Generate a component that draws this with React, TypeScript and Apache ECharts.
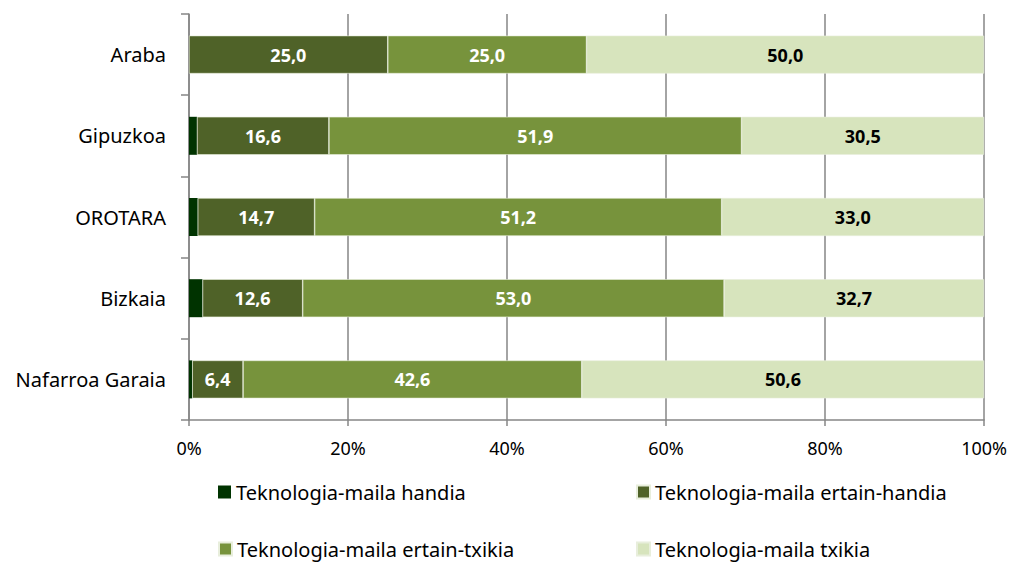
import React, { useEffect, useRef } from "react";
import * as echarts from "echarts";

const categories = ["Araba", "Gipuzkoa", "OROTARA", "Bizkaia", "Nafarroa Garaia"];
const seriesNames = [
  "Teknologia-maila handia",
  "Teknologia-maila ertain-handia",
  "Teknologia-maila ertain-txikia",
  "Teknologia-maila txikia",
];
const handia = [0, 1.0, 1.1, 1.7, 0.4];
const ertainHandia = [25.0, 16.6, 14.7, 12.6, 6.4];
const ertainTxikia = [25.0, 51.9, 51.2, 53.0, 42.6];
const txikia = [50.0, 30.5, 33.0, 32.7, 50.6];
const xTicks = [0, 20, 40, 60, 80, 100];

const colors = ["#003300", "#4f6228", "#77933c", "#d7e4bd"];
const labelColors = ["#ffffff", "#ffffff", "#ffffff", "#000000"];
const FONT = "Noto Sans";

export default function App() {
  const ref = useRef<HTMLDivElement>(null);
  useEffect(() => {
    if (!ref.current) return;
    const chart = echarts.init(ref.current, null, { renderer: "svg" });
    const values = [handia, ertainHandia, ertainTxikia, txikia];
    const legendPos = [
      { left: 218, top: 482 },
      { left: 636, top: 482 },
      { left: 218, top: 539 },
      { left: 636, top: 539 },
    ];
    chart.setOption({
      animation: false,
      textStyle: { fontFamily: FONT },
      grid: { left: 189, right: 25, top: 14, bottom: 142, containLabel: false },
      legend: seriesNames.map((n, i) => ({
        data: [n],
        left: legendPos[i].left,
        top: legendPos[i].top,
        padding: 0,
        itemWidth: 13,
        itemHeight: 13,
        itemGap: 0,
        icon: "rect",
        textStyle: { fontFamily: FONT, fontSize: 20, color: "#000" },
      })),
      xAxis: {
        type: "value",
        min: 0,
        max: 100,
        interval: 20,
        axisLabel: {
          formatter: (v: number) => (xTicks.includes(v) ? v + "%" : ""),
          fontFamily: FONT,
          fontSize: 18,
          color: "#000",
          margin: 19,
        },
        axisLine: { show: true, lineStyle: { color: "#868686", width: 1.5 } },
        axisTick: { show: true, length: 6, lineStyle: { color: "#868686", width: 1.5 } },
        splitLine: { show: true, lineStyle: { color: "#868686", width: 1.5 } },
      },
      yAxis: {
        type: "category",
        data: categories,
        inverse: true,
        axisLabel: { fontFamily: FONT, fontSize: 20, color: "#000", margin: 23 },
        axisLine: { show: true, lineStyle: { color: "#868686", width: 1.5 } },
        axisTick: { show: true, length: 8, lineStyle: { color: "#868686", width: 1.5 } },
        splitLine: { show: false },
      },
      series: seriesNames.map((n, i) => ({
        name: n,
        type: "bar",
        stack: "total",
        barWidth: 38,
        data: values[i],
        itemStyle: { color: colors[i], borderColor: "#e8eedc", borderWidth: i === 0 ? 0 : 0.6 },
        label: {
          show: i > 0,
          position: "inside",
          formatter: (p: any) => p.value.toFixed(1).replace(".", ","),
          color: labelColors[i],
          fontFamily: FONT,
          fontWeight: "bold",
          fontSize: 18,
        },
      })),
    });
    return () => chart.dispose();
  }, []);
  return <div ref={ref} style={{ width: 1010, height: 562, position: "absolute", left: 0, top: 0 }} />;
}
